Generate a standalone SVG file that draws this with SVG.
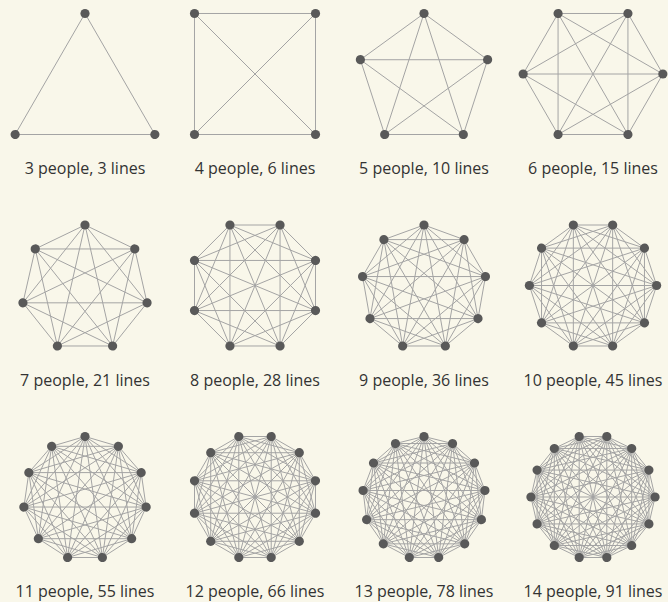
<svg xmlns="http://www.w3.org/2000/svg" width="668" height="602" viewBox="0 0 668 602">
<style>
.bg{fill:#f9f7ea}
.e{fill:none;stroke:#a4a4a4;stroke-width:1;vector-effect:non-scaling-stroke}
.p{fill:#595959}
text{font-family:"Open Sans","Noto Sans",sans-serif;font-size:16px;fill:#333;text-anchor:middle}
</style>
<defs>
<path id="dia" class="e" d="M0 -1V1"/>
<path id="f3" class="e" d="M0 -1L.86603 .5"/>
<path id="f4" class="e" d="M0 -1L1 0"/>
<path id="f5" class="e" d="M0 -1L.95106 -.30902M0 -1L.58779 .80902"/>
<path id="f6" class="e" d="M0 -1L.86603 -.5M0 -1L.86603 .5"/>
<path id="f7" class="e" d="M0 -1L.78183 -.62349M0 -1L.97493 .22252M0 -1L.43388 .90097"/>
<path id="f8" class="e" d="M0 -1L.70711 -.70711M0 -1L1 0M0 -1L.70711 .70711"/>
<path id="f9" class="e" d="M0 -1L.64279 -.76604M0 -1L.98481 -.17365M0 -1L.86603 .5M0 -1L.34202 .93969"/>
<path id="f10" class="e" d="M0 -1L.58779 -.80902M0 -1L.95106 -.30902M0 -1L.95106 .30902M0 -1L.58779 .80902"/>
<path id="f11" class="e" d="M0 -1L.54064 -.84125M0 -1L.90963 -.41542M0 -1L.98982 .14231M0 -1L.75575 .65486M0 -1L.28173 .95949"/>
<path id="f12" class="e" d="M0 -1L.5 -.86603M0 -1L.86603 -.5M0 -1L1 0M0 -1L.86603 .5M0 -1L.5 .86603"/>
<path id="f13" class="e" d="M0 -1L.46472 -.88546M0 -1L.82298 -.56806M0 -1L.99271 -.12054M0 -1L.93502 .3546M0 -1L.66312 .74851M0 -1L.23932 .97094"/>
<path id="f14" class="e" d="M0 -1L.43388 -.90097M0 -1L.78183 -.62349M0 -1L.97493 -.22252M0 -1L.97493 .22252M0 -1L.78183 .62349M0 -1L.43388 .90097"/>
</defs>
<rect class="bg" x="0" y="0" width="668" height="602"/>

<g id="k3" transform="translate(85 94.17) scale(80.67)">
<g id="k3-lines"><use href="#f3"/><use href="#f3" transform="rotate(120)"/><use href="#f3" transform="rotate(240)"/></g>
<g id="k3-1"><circle class="p" cy="-1" r=".057"/></g>
<g id="k3-2"><circle class="p" cy="-1" r=".057" transform="rotate(120)"/></g>
<g id="k3-3"><circle class="p" cy="-1" r=".057" transform="rotate(240)"/></g>
</g>
<text x="85" y="174.3">3 people, 3 lines</text>

<g id="k4" transform="translate(255 74) scale(85.56) rotate(45)">
<g id="k4-lines"><use href="#f4"/><use href="#f4" transform="rotate(90)"/><use href="#f4" transform="rotate(180)"/><use href="#f4" transform="rotate(270)"/><use href="#dia"/><use href="#dia" transform="rotate(90)"/></g>
<g id="k4-1"><circle class="p" cy="-1" r=".0538"/></g>
<g id="k4-2"><circle class="p" cy="-1" r=".0538" transform="rotate(90)"/></g>
<g id="k4-3"><circle class="p" cy="-1" r=".0538" transform="rotate(180)"/></g>
<g id="k4-4"><circle class="p" cy="-1" r=".0538" transform="rotate(270)"/></g>
</g>
<text x="255" y="174.3">4 people, 6 lines</text>

<g id="k5" transform="translate(424 80.39) scale(66.89)">
<g id="k5-lines"><use href="#f5"/><use href="#f5" transform="rotate(72)"/><use href="#f5" transform="rotate(144)"/><use href="#f5" transform="rotate(216)"/><use href="#f5" transform="rotate(288)"/></g>
<g id="k5-1"><circle class="p" cy="-1" r=".0688"/></g>
<g id="k5-2"><circle class="p" cy="-1" r=".0688" transform="rotate(72)"/></g>
<g id="k5-3"><circle class="p" cy="-1" r=".0688" transform="rotate(144)"/></g>
<g id="k5-4"><circle class="p" cy="-1" r=".0688" transform="rotate(216)"/></g>
<g id="k5-5"><circle class="p" cy="-1" r=".0688" transform="rotate(288)"/></g>
</g>
<text x="424" y="174.3">5 people, 10 lines</text>

<g id="k6" transform="translate(593 74) scale(69.86) rotate(30)">
<g id="k6-lines"><use href="#f6"/><use href="#f6" transform="rotate(60)"/><use href="#f6" transform="rotate(120)"/><use href="#f6" transform="rotate(180)"/><use href="#f6" transform="rotate(240)"/><use href="#f6" transform="rotate(300)"/><use href="#dia"/><use href="#dia" transform="rotate(60)"/><use href="#dia" transform="rotate(120)"/></g>
<g id="k6-1"><circle class="p" cy="-1" r=".0658"/></g>
<g id="k6-2"><circle class="p" cy="-1" r=".0658" transform="rotate(60)"/></g>
<g id="k6-3"><circle class="p" cy="-1" r=".0658" transform="rotate(120)"/></g>
<g id="k6-4"><circle class="p" cy="-1" r=".0658" transform="rotate(180)"/></g>
<g id="k6-5"><circle class="p" cy="-1" r=".0658" transform="rotate(240)"/></g>
<g id="k6-6"><circle class="p" cy="-1" r=".0658" transform="rotate(300)"/></g>
</g>
<text x="593" y="174.3">6 people, 15 lines</text>

<g id="k7" transform="translate(85 288.65) scale(63.65)">
<g id="k7-lines"><use href="#f7"/><use href="#f7" transform="rotate(51.4286)"/><use href="#f7" transform="rotate(102.8571)"/><use href="#f7" transform="rotate(154.2857)"/><use href="#f7" transform="rotate(205.7143)"/><use href="#f7" transform="rotate(257.1429)"/><use href="#f7" transform="rotate(308.5714)"/></g>
<g id="k7-1"><circle class="p" cy="-1" r=".0723"/></g>
<g id="k7-2"><circle class="p" cy="-1" r=".0723" transform="rotate(51.4286)"/></g>
<g id="k7-3"><circle class="p" cy="-1" r=".0723" transform="rotate(102.8571)"/></g>
<g id="k7-4"><circle class="p" cy="-1" r=".0723" transform="rotate(154.2857)"/></g>
<g id="k7-5"><circle class="p" cy="-1" r=".0723" transform="rotate(205.7143)"/></g>
<g id="k7-6"><circle class="p" cy="-1" r=".0723" transform="rotate(257.1429)"/></g>
<g id="k7-7"><circle class="p" cy="-1" r=".0723" transform="rotate(308.5714)"/></g>
</g>
<text x="85" y="386">7 people, 21 lines</text>

<g id="k8" transform="translate(255 285.5) scale(65.48) rotate(22.5)">
<g id="k8-lines"><use href="#f8"/><use href="#f8" transform="rotate(45)"/><use href="#f8" transform="rotate(90)"/><use href="#f8" transform="rotate(135)"/><use href="#f8" transform="rotate(180)"/><use href="#f8" transform="rotate(225)"/><use href="#f8" transform="rotate(270)"/><use href="#f8" transform="rotate(315)"/><use href="#dia"/><use href="#dia" transform="rotate(45)"/><use href="#dia" transform="rotate(90)"/><use href="#dia" transform="rotate(135)"/></g>
<g id="k8-1"><circle class="p" cy="-1" r=".0703"/></g>
<g id="k8-2"><circle class="p" cy="-1" r=".0703" transform="rotate(45)"/></g>
<g id="k8-3"><circle class="p" cy="-1" r=".0703" transform="rotate(90)"/></g>
<g id="k8-4"><circle class="p" cy="-1" r=".0703" transform="rotate(135)"/></g>
<g id="k8-5"><circle class="p" cy="-1" r=".0703" transform="rotate(180)"/></g>
<g id="k8-6"><circle class="p" cy="-1" r=".0703" transform="rotate(225)"/></g>
<g id="k8-7"><circle class="p" cy="-1" r=".0703" transform="rotate(270)"/></g>
<g id="k8-8"><circle class="p" cy="-1" r=".0703" transform="rotate(315)"/></g>
</g>
<text x="255" y="386">8 people, 28 lines</text>

<g id="k9" transform="translate(424 287.38) scale(62.38)">
<g id="k9-lines"><use href="#f9"/><use href="#f9" transform="rotate(40)"/><use href="#f9" transform="rotate(80)"/><use href="#f9" transform="rotate(120)"/><use href="#f9" transform="rotate(160)"/><use href="#f9" transform="rotate(200)"/><use href="#f9" transform="rotate(240)"/><use href="#f9" transform="rotate(280)"/><use href="#f9" transform="rotate(320)"/></g>
<g id="k9-1"><circle class="p" cy="-1" r=".0737"/></g>
<g id="k9-2"><circle class="p" cy="-1" r=".0737" transform="rotate(40)"/></g>
<g id="k9-3"><circle class="p" cy="-1" r=".0737" transform="rotate(80)"/></g>
<g id="k9-4"><circle class="p" cy="-1" r=".0737" transform="rotate(120)"/></g>
<g id="k9-5"><circle class="p" cy="-1" r=".0737" transform="rotate(160)"/></g>
<g id="k9-6"><circle class="p" cy="-1" r=".0737" transform="rotate(200)"/></g>
<g id="k9-7"><circle class="p" cy="-1" r=".0737" transform="rotate(240)"/></g>
<g id="k9-8"><circle class="p" cy="-1" r=".0737" transform="rotate(280)"/></g>
<g id="k9-9"><circle class="p" cy="-1" r=".0737" transform="rotate(320)"/></g>
</g>
<text x="424" y="386">9 people, 36 lines</text>

<g id="k10" transform="translate(593 285.5) scale(63.61) rotate(18)">
<g id="k10-lines"><use href="#f10"/><use href="#f10" transform="rotate(36)"/><use href="#f10" transform="rotate(72)"/><use href="#f10" transform="rotate(108)"/><use href="#f10" transform="rotate(144)"/><use href="#f10" transform="rotate(180)"/><use href="#f10" transform="rotate(216)"/><use href="#f10" transform="rotate(252)"/><use href="#f10" transform="rotate(288)"/><use href="#f10" transform="rotate(324)"/><use href="#dia"/><use href="#dia" transform="rotate(36)"/><use href="#dia" transform="rotate(72)"/><use href="#dia" transform="rotate(108)"/><use href="#dia" transform="rotate(144)"/></g>
<g id="k10-1"><circle class="p" cy="-1" r=".0723"/></g>
<g id="k10-2"><circle class="p" cy="-1" r=".0723" transform="rotate(36)"/></g>
<g id="k10-3"><circle class="p" cy="-1" r=".0723" transform="rotate(72)"/></g>
<g id="k10-4"><circle class="p" cy="-1" r=".0723" transform="rotate(108)"/></g>
<g id="k10-5"><circle class="p" cy="-1" r=".0723" transform="rotate(144)"/></g>
<g id="k10-6"><circle class="p" cy="-1" r=".0723" transform="rotate(180)"/></g>
<g id="k10-7"><circle class="p" cy="-1" r=".0723" transform="rotate(216)"/></g>
<g id="k10-8"><circle class="p" cy="-1" r=".0723" transform="rotate(252)"/></g>
<g id="k10-9"><circle class="p" cy="-1" r=".0723" transform="rotate(288)"/></g>
<g id="k10-10"><circle class="p" cy="-1" r=".0723" transform="rotate(324)"/></g>
</g>
<text x="593" y="386">10 people, 45 lines</text>

<g id="k11" transform="translate(85 498.25) scale(61.75)">
<g id="k11-lines"><use href="#f11"/><use href="#f11" transform="rotate(32.7273)"/><use href="#f11" transform="rotate(65.4545)"/><use href="#f11" transform="rotate(98.1818)"/><use href="#f11" transform="rotate(130.9091)"/><use href="#f11" transform="rotate(163.6364)"/><use href="#f11" transform="rotate(196.3636)"/><use href="#f11" transform="rotate(229.0909)"/><use href="#f11" transform="rotate(261.8182)"/><use href="#f11" transform="rotate(294.5455)"/><use href="#f11" transform="rotate(327.2727)"/></g>
<g id="k11-1"><circle class="p" cy="-1" r=".0745"/></g>
<g id="k11-2"><circle class="p" cy="-1" r=".0745" transform="rotate(32.7273)"/></g>
<g id="k11-3"><circle class="p" cy="-1" r=".0745" transform="rotate(65.4545)"/></g>
<g id="k11-4"><circle class="p" cy="-1" r=".0745" transform="rotate(98.1818)"/></g>
<g id="k11-5"><circle class="p" cy="-1" r=".0745" transform="rotate(130.9091)"/></g>
<g id="k11-6"><circle class="p" cy="-1" r=".0745" transform="rotate(163.6364)"/></g>
<g id="k11-7"><circle class="p" cy="-1" r=".0745" transform="rotate(196.3636)"/></g>
<g id="k11-8"><circle class="p" cy="-1" r=".0745" transform="rotate(229.0909)"/></g>
<g id="k11-9"><circle class="p" cy="-1" r=".0745" transform="rotate(261.8182)"/></g>
<g id="k11-10"><circle class="p" cy="-1" r=".0745" transform="rotate(294.5455)"/></g>
<g id="k11-11"><circle class="p" cy="-1" r=".0745" transform="rotate(327.2727)"/></g>
</g>
<text x="85" y="597.3">11 people, 55 lines</text>

<g id="k12" transform="translate(255 497) scale(62.63) rotate(15)">
<g id="k12-lines"><use href="#f12"/><use href="#f12" transform="rotate(30)"/><use href="#f12" transform="rotate(60)"/><use href="#f12" transform="rotate(90)"/><use href="#f12" transform="rotate(120)"/><use href="#f12" transform="rotate(150)"/><use href="#f12" transform="rotate(180)"/><use href="#f12" transform="rotate(210)"/><use href="#f12" transform="rotate(240)"/><use href="#f12" transform="rotate(270)"/><use href="#f12" transform="rotate(300)"/><use href="#f12" transform="rotate(330)"/><use href="#dia"/><use href="#dia" transform="rotate(30)"/><use href="#dia" transform="rotate(60)"/><use href="#dia" transform="rotate(90)"/><use href="#dia" transform="rotate(120)"/><use href="#dia" transform="rotate(150)"/></g>
<g id="k12-1"><circle class="p" cy="-1" r=".0734"/></g>
<g id="k12-2"><circle class="p" cy="-1" r=".0734" transform="rotate(30)"/></g>
<g id="k12-3"><circle class="p" cy="-1" r=".0734" transform="rotate(60)"/></g>
<g id="k12-4"><circle class="p" cy="-1" r=".0734" transform="rotate(90)"/></g>
<g id="k12-5"><circle class="p" cy="-1" r=".0734" transform="rotate(120)"/></g>
<g id="k12-6"><circle class="p" cy="-1" r=".0734" transform="rotate(150)"/></g>
<g id="k12-7"><circle class="p" cy="-1" r=".0734" transform="rotate(180)"/></g>
<g id="k12-8"><circle class="p" cy="-1" r=".0734" transform="rotate(210)"/></g>
<g id="k12-9"><circle class="p" cy="-1" r=".0734" transform="rotate(240)"/></g>
<g id="k12-10"><circle class="p" cy="-1" r=".0734" transform="rotate(270)"/></g>
<g id="k12-11"><circle class="p" cy="-1" r=".0734" transform="rotate(300)"/></g>
<g id="k12-12"><circle class="p" cy="-1" r=".0734" transform="rotate(330)"/></g>
</g>
<text x="255" y="597.3">12 people, 66 lines</text>

<g id="k13" transform="translate(424 497.89) scale(61.39)">
<g id="k13-lines"><use href="#f13"/><use href="#f13" transform="rotate(27.6923)"/><use href="#f13" transform="rotate(55.3846)"/><use href="#f13" transform="rotate(83.0769)"/><use href="#f13" transform="rotate(110.7692)"/><use href="#f13" transform="rotate(138.4615)"/><use href="#f13" transform="rotate(166.1538)"/><use href="#f13" transform="rotate(193.8462)"/><use href="#f13" transform="rotate(221.5385)"/><use href="#f13" transform="rotate(249.2308)"/><use href="#f13" transform="rotate(276.9231)"/><use href="#f13" transform="rotate(304.6154)"/><use href="#f13" transform="rotate(332.3077)"/></g>
<g id="k13-1"><circle class="p" cy="-1" r=".0749"/></g>
<g id="k13-2"><circle class="p" cy="-1" r=".0749" transform="rotate(27.6923)"/></g>
<g id="k13-3"><circle class="p" cy="-1" r=".0749" transform="rotate(55.3846)"/></g>
<g id="k13-4"><circle class="p" cy="-1" r=".0749" transform="rotate(83.0769)"/></g>
<g id="k13-5"><circle class="p" cy="-1" r=".0749" transform="rotate(110.7692)"/></g>
<g id="k13-6"><circle class="p" cy="-1" r=".0749" transform="rotate(138.4615)"/></g>
<g id="k13-7"><circle class="p" cy="-1" r=".0749" transform="rotate(166.1538)"/></g>
<g id="k13-8"><circle class="p" cy="-1" r=".0749" transform="rotate(193.8462)"/></g>
<g id="k13-9"><circle class="p" cy="-1" r=".0749" transform="rotate(221.5385)"/></g>
<g id="k13-10"><circle class="p" cy="-1" r=".0749" transform="rotate(249.2308)"/></g>
<g id="k13-11"><circle class="p" cy="-1" r=".0749" transform="rotate(276.9231)"/></g>
<g id="k13-12"><circle class="p" cy="-1" r=".0749" transform="rotate(304.6154)"/></g>
<g id="k13-13"><circle class="p" cy="-1" r=".0749" transform="rotate(332.3077)"/></g>
</g>
<text x="424" y="597.3">13 people, 78 lines</text>

<g id="k14" transform="translate(593 497) scale(62.06) rotate(12.8571)">
<g id="k14-lines"><use href="#f14"/><use href="#f14" transform="rotate(25.7143)"/><use href="#f14" transform="rotate(51.4286)"/><use href="#f14" transform="rotate(77.1429)"/><use href="#f14" transform="rotate(102.8571)"/><use href="#f14" transform="rotate(128.5714)"/><use href="#f14" transform="rotate(154.2857)"/><use href="#f14" transform="rotate(180)"/><use href="#f14" transform="rotate(205.7143)"/><use href="#f14" transform="rotate(231.4286)"/><use href="#f14" transform="rotate(257.1429)"/><use href="#f14" transform="rotate(282.8571)"/><use href="#f14" transform="rotate(308.5714)"/><use href="#f14" transform="rotate(334.2857)"/><use href="#dia"/><use href="#dia" transform="rotate(25.7143)"/><use href="#dia" transform="rotate(51.4286)"/><use href="#dia" transform="rotate(77.1429)"/><use href="#dia" transform="rotate(102.8571)"/><use href="#dia" transform="rotate(128.5714)"/><use href="#dia" transform="rotate(154.2857)"/></g>
<g id="k14-1"><circle class="p" cy="-1" r=".0741"/></g>
<g id="k14-2"><circle class="p" cy="-1" r=".0741" transform="rotate(25.7143)"/></g>
<g id="k14-3"><circle class="p" cy="-1" r=".0741" transform="rotate(51.4286)"/></g>
<g id="k14-4"><circle class="p" cy="-1" r=".0741" transform="rotate(77.1429)"/></g>
<g id="k14-5"><circle class="p" cy="-1" r=".0741" transform="rotate(102.8571)"/></g>
<g id="k14-6"><circle class="p" cy="-1" r=".0741" transform="rotate(128.5714)"/></g>
<g id="k14-7"><circle class="p" cy="-1" r=".0741" transform="rotate(154.2857)"/></g>
<g id="k14-8"><circle class="p" cy="-1" r=".0741" transform="rotate(180)"/></g>
<g id="k14-9"><circle class="p" cy="-1" r=".0741" transform="rotate(205.7143)"/></g>
<g id="k14-10"><circle class="p" cy="-1" r=".0741" transform="rotate(231.4286)"/></g>
<g id="k14-11"><circle class="p" cy="-1" r=".0741" transform="rotate(257.1429)"/></g>
<g id="k14-12"><circle class="p" cy="-1" r=".0741" transform="rotate(282.8571)"/></g>
<g id="k14-13"><circle class="p" cy="-1" r=".0741" transform="rotate(308.5714)"/></g>
<g id="k14-14"><circle class="p" cy="-1" r=".0741" transform="rotate(334.2857)"/></g>
</g>
<text x="593" y="597.3">14 people, 91 lines</text>
</svg>
